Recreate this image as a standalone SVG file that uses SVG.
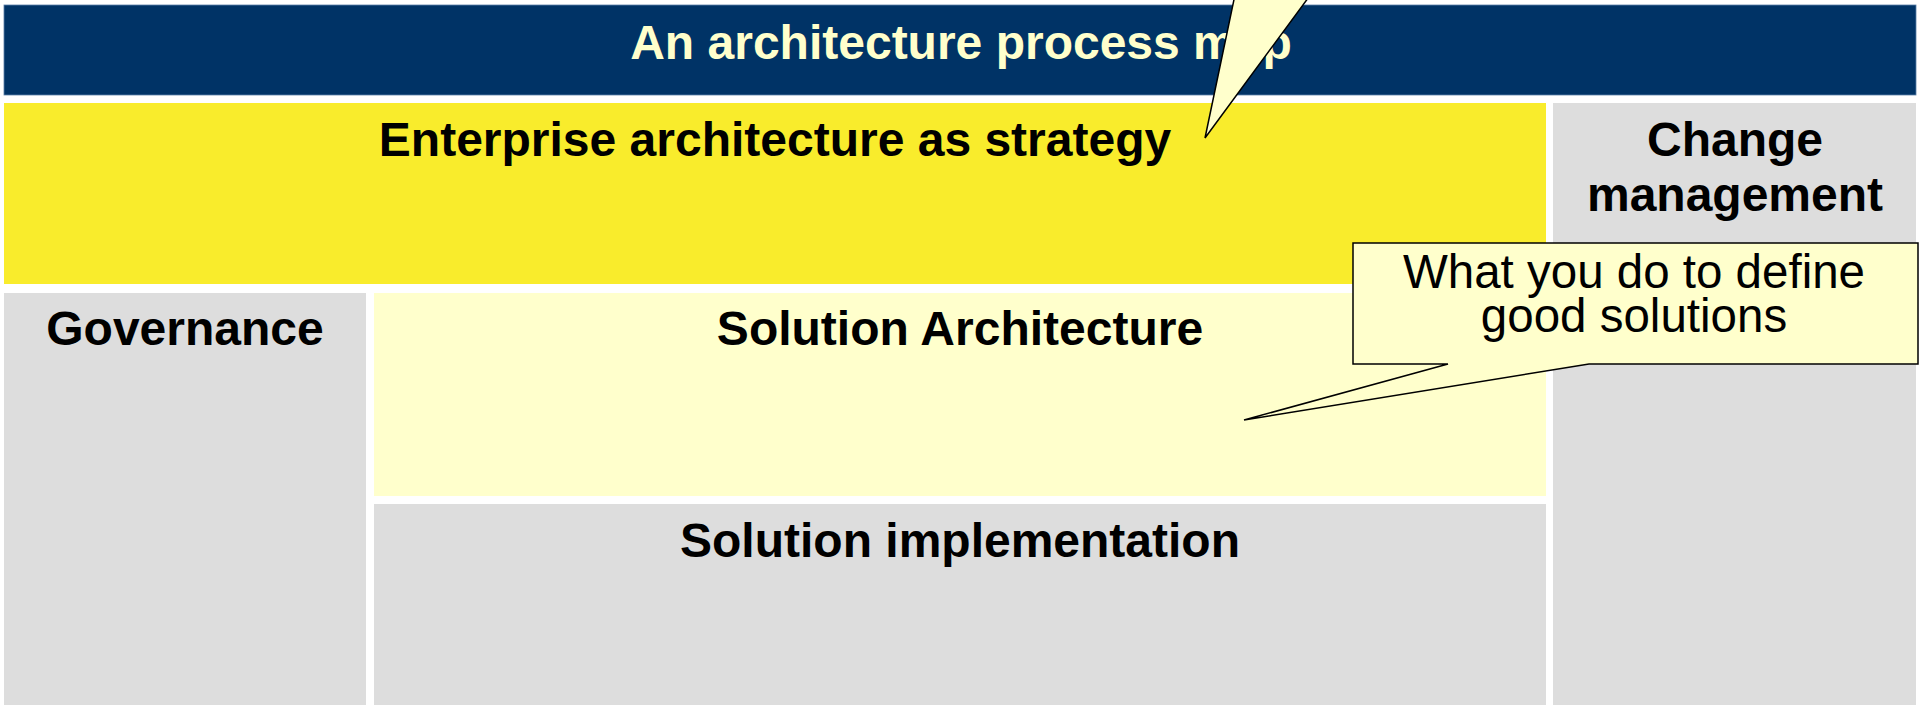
<svg xmlns="http://www.w3.org/2000/svg" width="1920" height="707" viewBox="0 0 1920 707">
<style>
.t{font-family:"Liberation Sans",Arial,sans-serif;font-size:48px;font-weight:bold;text-anchor:middle;fill:#000}
.title{fill:#FFFFCC}
.gray{fill:#DDDDDD}
.callout{fill:#FFFFCC;stroke:#000;stroke-width:1.5;stroke-linejoin:miter}
.ct{font-family:"Liberation Sans",Arial,sans-serif;font-size:47.5px;text-anchor:middle;fill:#000}
</style>
<rect x="0" y="0" width="1920" height="707" fill="#FFFFFF"/>
<g id="title">
<rect x="4" y="5" width="1912" height="90" fill="#003366" stroke="#5A7FA8" stroke-width="0.8"/>
<text class="t title" x="961" y="59">An architecture process map</text>
</g>
<g id="enterprise">
<rect x="4" y="103" width="1542" height="181" fill="#F9EC2C"/>
<text class="t" x="775" y="156">Enterprise architecture as strategy</text>
</g>
<g id="change">
<rect class="gray" x="1553" y="103" width="363" height="602"/>
<text class="t" x="1735" y="156">Change</text>
<text class="t" x="1735" y="211">management</text>
</g>
<g id="governance">
<rect class="gray" x="4" y="293" width="362" height="412"/>
<text class="t" x="185" y="345">Governance</text>
</g>
<g id="solution-architecture">
<rect x="374" y="293" width="1172" height="203" fill="#FFFFCC"/>
<text class="t" x="960" y="345">Solution Architecture</text>
</g>
<g id="solution-implementation">
<rect class="gray" x="374" y="504" width="1172" height="201"/>
<text class="t" x="960" y="557">Solution implementation</text>
</g>
<g id="connectors">
<g id="callout-top">
<path class="callout" d="M1236,-10 L1205,138 L1314,-10"/>
</g>
<g id="callout-solutions">
<path class="callout" d="M1353,243 H1918 V364 H1589 L1244,420 L1448,364 H1353 Z"/>
<text class="ct" x="1634" y="288">What you do to define</text>
<text class="ct" x="1634" y="332">good solutions</text>
</g>
</g>
</svg>
